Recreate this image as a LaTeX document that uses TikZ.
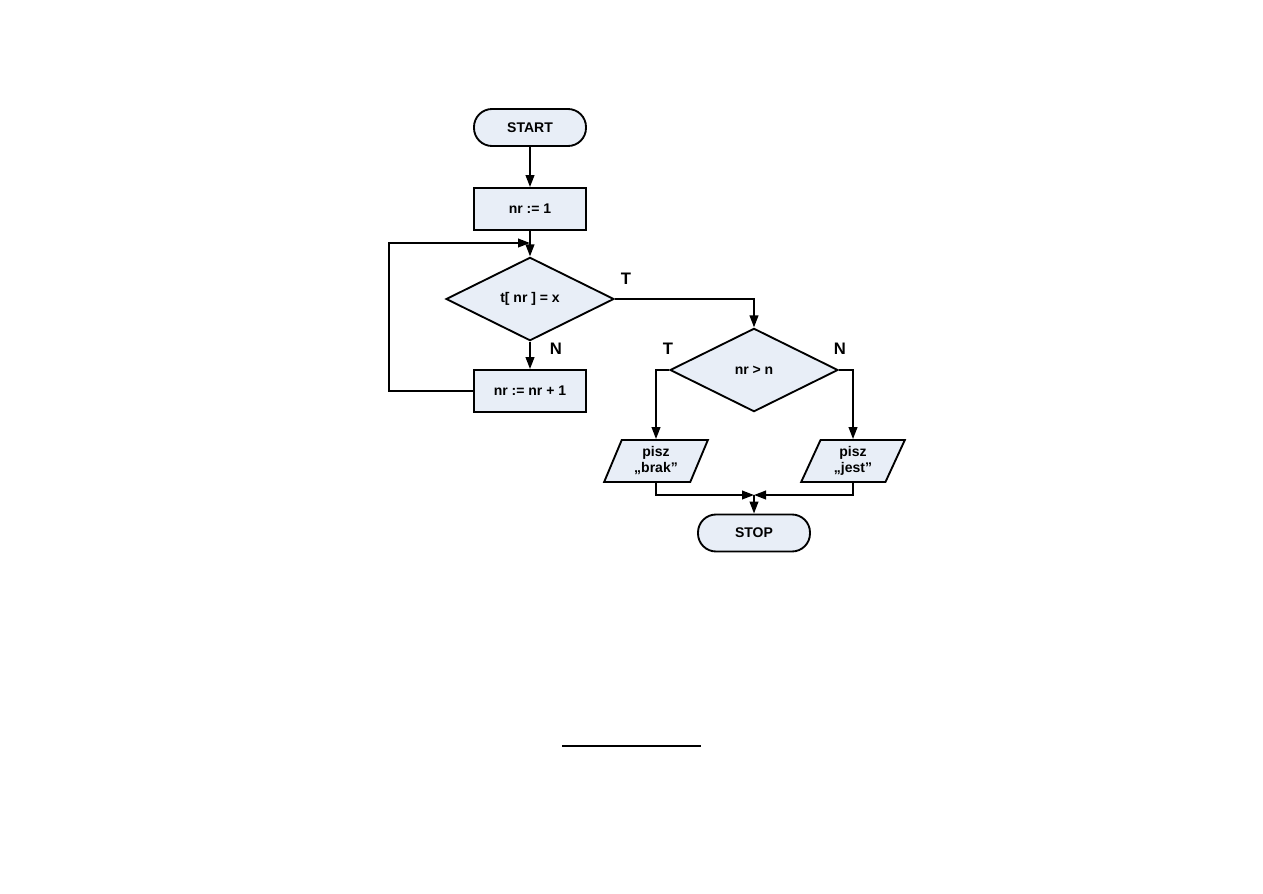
\documentclass[tikz,border=0pt]{standalone}
\usepackage{fontspec}
\setmainfont{Liberation Sans}
\usetikzlibrary{arrows.meta,positioning,shapes.geometric}
\definecolor{BoxFill}{RGB}{232,238,247}

\begin{document}
\begin{tikzpicture}[x=0.75pt,y=-0.75pt,>={Triangle[length=9pt,width=6.5pt]},
  every node/.style={font=\bfseries\fontsize{10.5}{12}\selectfont},
  line/.style={line width=1.4pt},
  term/.style={draw,line,fill=BoxFill,rounded corners=13.5pt,minimum width=84pt,minimum height=27.75pt},
  proc/.style={draw,line,fill=BoxFill,minimum width=84pt,minimum height=31.5pt},
  cond/.style={draw,line,fill=BoxFill,diamond,inner sep=0pt,minimum width=126pt,minimum height=62.5pt},
  io/.style={draw,line,fill=BoxFill,trapezium,trapezium left angle=69,trapezium right angle=111,
    trapezium stretches=true,minimum width=78pt,minimum height=31.5pt,inner sep=1pt,align=center},
  tag/.style={font=\bfseries\fontsize{12.5}{14}\selectfont}]
  \useasboundingbox (0,0) rectangle (1263,893);

  % main loop
  \node[term] (start) at (530,127.5) {START};
  \node[proc] (init) at (530,209) {nr := 1};
  \node[cond] (test) at (530,299) {t[ nr ] = x};
  \node[proc] (inc) at (530,391) {nr := nr + 1};
  \coordinate (join) at (530,243);

  % second test
  \node[cond] (check) at (754,370) {nr > n};
  \node[io] (brak) at (656,461) {pisz\\„brak”};
  \node[io] (jest) at (853,461) {pisz\\„jest”};
  \node[term] (stop) at (754,533) {STOP};
  \coordinate (merge) at (754,495);

  \node[tag] (ta) at (626,279) {T};
  \node[tag] (na) at (556,349) {N};
  \node[tag] (tb) at (668,349) {T};
  \node[tag] (nb) at (840,349) {N};

  \draw[line,->] (start) -- (init);
  \draw[line,->] (init) -- (test);
  \draw[line,->] (test) -- (inc);
  \draw[line,->] (inc.west) -- ++(-84,0) |- (join);
  \draw[line,->] (test.east) -| (check);
  \draw[line,->] (check.west) -| (brak);
  \draw[line,->] (check.east) -| (jest);
  \draw[line,->] (brak) |- (merge);
  \draw[line,->] (jest) |- (merge);
  \draw[line,->] (merge) -- (stop);

  \draw[line width=1.5pt] (562,746) -- (701,746);
\end{tikzpicture}
\end{document}
